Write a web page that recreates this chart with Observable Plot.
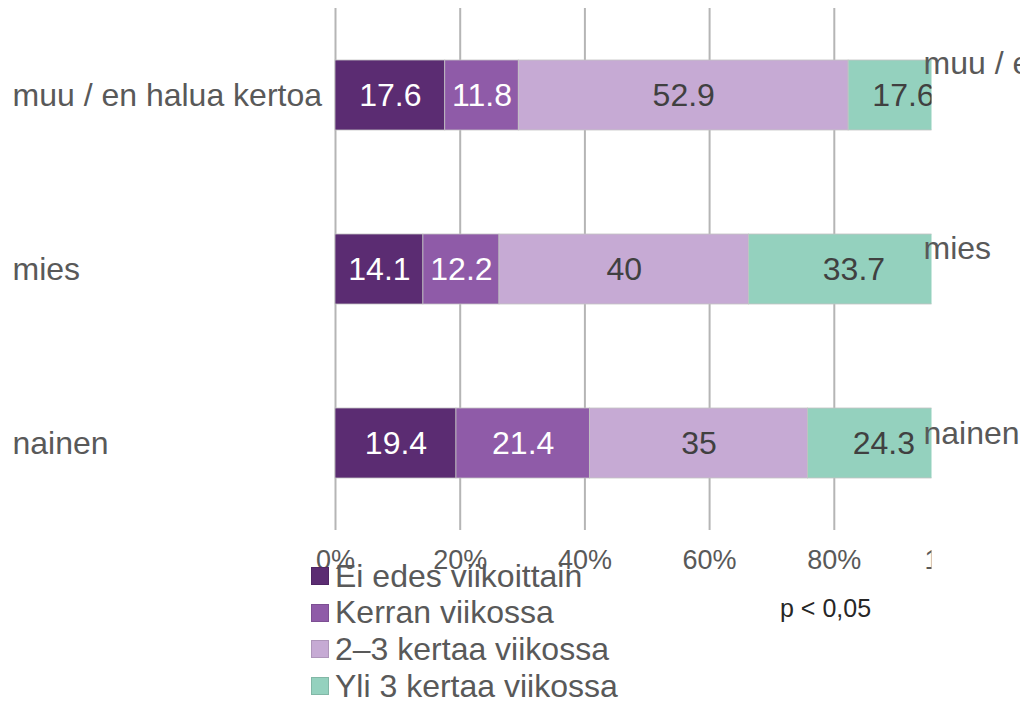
<!DOCTYPE html>
<html>
<head>
<meta charset="utf-8">
<script src="https://cdn.jsdelivr.net/npm/d3@7"></script>
<script src="https://cdn.jsdelivr.net/npm/@observablehq/plot@0.6"></script>
<style>
  html, body { margin: 0; padding: 0; background: #fff; }
  #wrap { position: relative; width: 1020px; height: 701px; overflow: hidden; font-family: "Liberation Sans", Arial, sans-serif; }
  #legend { position: absolute; left: 311px; top: 557.5px; }
  .item { display: flex; align-items: center; height: 36.7px; line-height: 36.7px; font-size: 32px; color: #595959; white-space: nowrap; }
  .sw { width: 16px; height: 16px; border: 1px solid rgba(0,0,0,0.12); margin-right: 6px; flex: none; }
  #pval { position: absolute; left: 780px; top: 596px; font-size: 25px; line-height: 1; color: #262626; }
</style>
</head>
<body>
<div id="wrap"><div id="chart"></div><div id="legend"></div><div id="pval"></div></div>
<script>
// ---- data ----
const groups = ["muu / en halua kertoa", "mies", "nainen"];
const categories = ["Ei edes viikoittain", "Kerran viikossa", "2–3 kertaa viikossa", "Yli 3 kertaa viikossa"];
const eiEdesViikoittain = [17.6, 14.1, 19.4];
const kerranViikossa = [11.8, 12.2, 21.4];
const kaksiKolmeKertaa = [52.9, 40, 35];
const yli3Kertaa = [17.6, 33.7, 24.3];
const xTicks = [0, 20, 40, 60, 80, 100];
const colors = ["#5b2c72", "#8f5ba8", "#c6aad4", "#94d1be"];
const darkCategories = ["Ei edes viikoittain", "Kerran viikossa"];
const note = "p < 0,05";

const series = [eiEdesViikoittain, kerranViikossa, kaksiKolmeKertaa, yli3Kertaa];
const data = groups.flatMap((g, i) => categories.map((c, j) => ({group: g, cat: c, value: series[j][i]})));
const isDark = d => darkCategories.includes(d.cat);

const font = "'Liberation Sans', Arial, sans-serif";
const sideOffsets = [-31, -20, -9];

const chart = Plot.plot({
  width: 1020,
  height: 590,
  marginLeft: 335,
  marginRight: 61.5,
  marginTop: 8,
  marginBottom: 60,
  x: {domain: [0, 100], label: null},
  y: {domain: groups, paddingInner: 0.6, paddingOuter: 0.3, axis: null},
  color: {domain: categories, range: colors},
  style: {fontFamily: font, background: "white", overflow: "visible"},
  marks: [
    Plot.gridX(xTicks, {stroke: "#b5b5b5", strokeOpacity: 1, strokeWidth: 2}),
    Plot.barX(data, Plot.stackX({x: "value", y: "group", z: "cat", fill: "cat", stroke: "#c2c2c2", strokeWidth: 0.8})),
    Plot.text(data, Plot.stackX({x: "value", y: "group", z: "cat", text: d => isDark(d) ? String(d.value) : "", fill: "white", fontSize: 32})),
    Plot.text(data, Plot.stackX({x: "value", y: "group", z: "cat", text: d => isDark(d) ? "" : String(d.value), fill: "#404040", fontSize: 32})),
    Plot.axisX({ticks: xTicks, tickFormat: d => d + "%", tickSize: 0, tickPadding: 19, fontSize: 27, color: "#595959", label: null}),
    Plot.text(groups, {y: d => d, frameAnchor: "left", dx: -323, textAnchor: "start", fill: "#595959", fontSize: 32})
  ]
});

// clip the plot at the cut-off edge of the original picture
const svg = d3.select(chart);
svg.insert("defs", ":first-child").append("clipPath").attr("id", "cutoff")
  .append("rect").attr("x", 0).attr("y", 0).attr("width", 931.5).attr("height", 590);
const clipped = svg.append("g").attr("clip-path", "url(#cutoff)");
Array.from(chart.children).forEach(el => {
  if (el.tagName.toLowerCase() === "g" && el !== clipped.node()) clipped.node().appendChild(el);
});

// labels of the neighbouring (cut-off) panel, drawn over the edge with the same scales
const xs = chart.scale("x"), ys = chart.scale("y");
svg.append("g")
  .attr("font-family", font).attr("font-size", 32).attr("fill", "#595959")
  .attr("text-anchor", "start")
  .selectAll("text").data(groups).join("text")
  .attr("x", xs.apply(100) - 35)
  .attr("y", (d, i) => ys.apply(d) + ys.bandwidth / 2 + sideOffsets[i])
  .attr("dy", "0.32em")
  .text(d => d);

document.getElementById("chart").appendChild(chart);

// legend
const legend = d3.select("#legend");
categories.forEach((c, i) => {
  const item = legend.append("div").attr("class", "item");
  item.append("div").attr("class", "sw").style("background", colors[i]);
  item.append("span").text(c);
});
document.getElementById("pval").textContent = note;
</script>
</body>
</html>
